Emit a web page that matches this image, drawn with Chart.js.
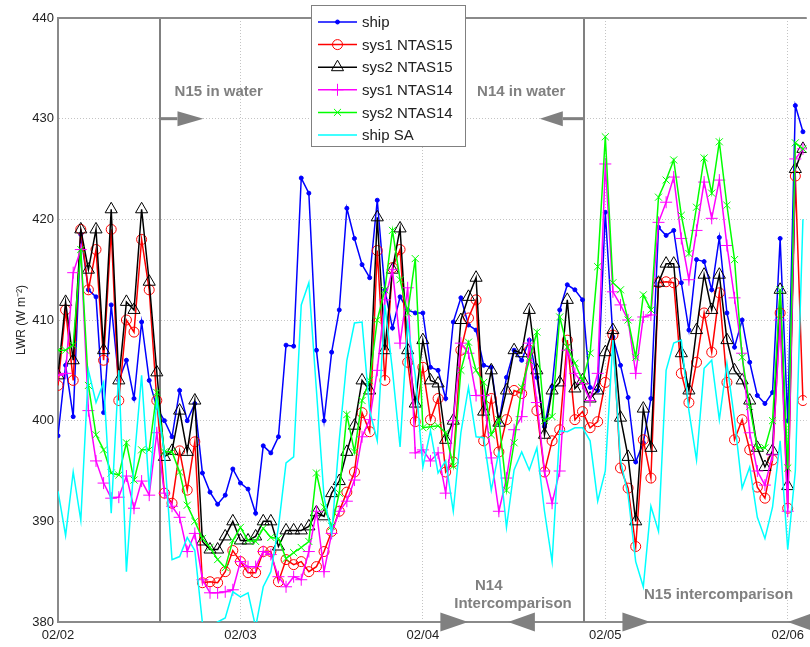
<!DOCTYPE html>
<html lang="en">
<head>
    <meta charset="UTF-8">
    <title>LWR - ship vs NTAS</title>
    <script src="https://cdn.jsdelivr.net/npm/chart.js"></script>
    <style>
        html, body { margin: 0; padding: 0; background: #fff; }
        .grafico { width: 810px; height: 647px; }
    </style>
</head>
<body>
    <div class="grafico"><canvas id="lwrChart" width="810" height="647"></canvas></div>

    <script>
        // hourly samples, starting 02/02 00:00 (x axis is in days)
        const stepDays = 1 / 24;
        const dayLabels = ['02/02', '02/03', '02/04', '02/05', '02/06'];
        const yTicks = [380, 390, 400, 410, 420, 430, 440];

        const ship = [
            398.5, 405.5, 400.4, 418.5, 413, 412.3, 400.8, 411.5, 404, 406,
            402.2, 409.8, 404, 401.3, 400, 398.4, 403, 400, 401.7, 394.8,
            392.9, 391.7, 392.6, 395.2, 393.8, 393.2, 390.8, 397.5, 396.8, 398.4,
            407.5, 407.4, 424.1, 422.6, 407, 400, 406.8, 411, 421.1, 418.1,
            415.5, 414.2, 421.9, 413, 409.2, 412.3, 411, 410.7, 410.7, 405.3,
            405, 402.2, 409.8, 412.2, 409.5, 409, 405.5, 405.3, 399.8, 404.3,
            407, 406, 408, 404.3, 399.4, 403.4, 411, 413.5, 413, 412,
            403.3, 403, 420.7, 408.3, 405.5, 402.3, 395.9, 397.8, 402.2, 419.2,
            418.4, 418.9, 413.7, 409, 416, 415.8, 413, 418.2, 410.7, 407.3,
            410, 405.8, 402.5, 401.7, 402.8, 418.1, 400, 431.3, 428.7
        ];
        const sys1N15 = [
            403.5, 411, 404, 419, 413, 417, 406, 419, 402, 410,
            408.8, 418, 413, 402, 392.8, 391.8, 397, 393.1, 397.9, 383.9,
            384, 383.9, 385, 387.1, 386, 384.9, 384.9, 387, 387, 384,
            386.2, 385.7, 386, 385, 385.5, 387, 389, 391, 392.9, 394.9,
            400.8, 398.9, 416.9, 404, 415.2, 417, 405.8, 399.9, 405.3, 400.1,
            402.2, 394.9, 395.9, 407, 410.2, 412, 398, 402.2, 396.9, 400.1,
            403, 402.7, 407, 401, 394.9, 398, 399.1, 408, 400.1, 400.9,
            399.3, 399.9, 403.8, 408.5, 395.3, 393.3, 387.5, 398.1, 394.3, 413.7,
            413.8, 413.7, 404.7, 401.8, 405.8, 410.7, 406.8, 412.7, 403.8, 398.1,
            400.1, 397.1, 393.4, 392.3, 396.1, 410.7, 391.3, 424.3, 402
        ];
        const sys2N15 = [
            404.5, 411.8, 406, 419, 415, 419, 407, 421, 404, 411.8,
            411, 421, 413.8, 404.8, 396.4, 397, 401, 396.9, 402, 388,
            387.2, 387.2, 388.5, 390, 388.1, 388.1, 388.5, 390, 390, 387.5,
            389.1, 389.1, 389.1, 389.5, 390.9, 390.5, 392.8, 394, 396.9, 399.5,
            404, 403, 420.2, 407, 415, 419.1, 407, 401.7, 408, 404,
            403.7, 398.1, 400, 410, 412.3, 414.2, 400.9, 405, 399.8, 403,
            407, 406.7, 411, 405, 398.6, 403, 403.8, 412, 403.2, 404,
            402.2, 403, 406.8, 409, 400.3, 396.4, 390, 401.2, 397.3, 413.7,
            415.6, 415.6, 406.7, 403, 409, 414.5, 411, 414.5, 408, 405,
            404, 402, 397.3, 395.4, 397, 413, 393.5, 425, 427
        ];
        const sys1N14 = [
            404.5, 404.7, 414.7, 417, 401, 396, 393.8, 392.3, 392.4, 394.5,
            391.3, 394, 392.6, 398.8, 392.8, 391.5, 390.4, 387, 388.8, 384.2,
            382.9, 382.9, 383, 383.2, 386, 385.5, 385.5, 387, 386.7, 384.5,
            383.5, 384.5, 384.2, 387, 391, 385, 388.8, 391, 392, 394.1,
            398.4, 400.1, 405, 412, 415, 407.7, 413.2, 396.8, 397.1, 396,
            396.8, 392.8, 400, 407.7, 406.7, 402.5, 402.5, 396.3, 391, 394.3,
            399.1, 400.4, 407.7, 401.8, 395, 391.8, 395, 407, 404.7, 403.7,
            402, 404.7, 425.5, 412.8, 411.5, 410, 404.7, 410.3, 410.5, 419.7,
            421.7, 424.2, 418.1, 414, 418.9, 423.7, 420.1, 423.9, 417.4, 412.2,
            406.7, 398.8, 395, 393.6, 396.6, 410, 391, 426, 427
        ];
        const sys2N14 = [
            407, 407, 407.5, 417, 403.5, 398.6, 397.1, 394.8, 394.6, 397.8,
            394.1, 397.1, 397.1, 402.8, 396.9, 396.9, 394.9, 391.6, 390, 388.3,
            387.4, 386.2, 385.4, 388.1, 389.4, 388.1, 388, 389.3, 388.4, 388.3,
            386.3, 386.9, 387.4, 388, 394.8, 391.4, 389.5, 392.8, 400.6, 396.9,
            402, 404, 410, 413, 418.9, 414, 410.7, 416.1, 399.3, 399.4,
            399.5, 398.8, 395.5, 405, 407.8, 405, 403.8, 398.6, 400.1, 393.1,
            397.8, 403.3, 406, 408.8, 400, 400.4, 410.3, 407.3, 405.7, 404,
            406.7, 415.3, 428.2, 413.7, 413, 410, 406.3, 412.5, 411, 422.2,
            423.9, 425.9, 420.4, 416.6, 421.2, 426.1, 422.6, 427.7, 421.4, 416,
            406.3, 401.4, 397.3, 397.3, 400, 413, 395.3, 427.6, 427
        ];
        const shipSA = [
            393, 388.6, 394.9, 390.1, 405, 401.8, 403.8, 390.8, 405, 385,
            395.8, 404.5, 393.1, 402, 396.8, 386.2, 386.5, 388.4, 387.1, 379.9,
            379.5, 380, 380.4, 383, 382.5, 382.9, 379.5, 383.5, 385, 389.4,
            395.8, 396.4, 411.5, 413.7, 403, 392.4, 388.8, 398.1, 406, 409.7,
            409.8, 401, 398, 411.5, 405, 397.4, 409.7, 404.5, 395.4, 399,
            394.8, 396, 391, 398.8, 403.3, 398.4, 398.3, 393.1, 396.9, 389.4,
            395.1, 396.9, 395.1, 397.3, 391, 386, 399, 398.9, 399.3, 399.3,
            398, 392, 395, 408, 396, 392.6, 386, 383.5, 391.5, 389,
            405, 407.7, 408, 401, 396.1, 405.2, 406, 400.1, 405.7, 400.1,
            393.3, 395.4, 390.4, 388.3, 391.4, 398, 387.2, 395, 420
        ];

        const seriesNames = ['ship', 'sys1 NTAS15', 'sys2 NTAS15', 'sys1 NTAS14', 'sys2 NTAS14', 'ship SA'];
        const seriesValues = [ship, sys1N15, sys2N15, sys1N14, sys2N14, shipSA];

        // look of each series (matlab style)
        const seriesStyle = [
            { color: '#0000ff', point: 'circle', radius: 2, filled: true },
            { color: '#ff0000', point: 'circle', radius: 5, filled: false },
            { color: '#000000', point: 'triangle', radius: 7, filled: false },
            { color: '#ff00ff', point: 'cross', radius: 6, filled: false },
            { color: '#00ff00', point: 'crossRot', radius: 5, filled: false },
            { color: '#00ffff', point: false, radius: 0, filled: false }
        ];

        // event markers, in days from 02/02
        const n15InWater = 0.557;
        const n14OutWater = 2.881;

        const fonte = 'Liberation Sans, Arial, sans-serif';
        Chart.defaults.font.family = fonte;

        const datasets = seriesValues.map(function (vals, k) {
            const st = seriesStyle[k];
            return {
                label: seriesNames[k],
                data: vals.map(function (v, i) { return { x: i * stepDays, y: v }; }),
                borderColor: st.color,
                backgroundColor: st.color,
                borderWidth: 1.5,
                pointStyle: st.point,
                pointRadius: st.radius,
                pointBorderWidth: 1,
                pointBorderColor: st.color,
                pointBackgroundColor: st.filled ? st.color : 'rgba(0,0,0,0)',
                tension: 0,
                order: 6 - k
            };
        });

        function triangle(ctx, tipX, baseX, y, half) {
            ctx.beginPath();
            ctx.moveTo(tipX, y);
            ctx.lineTo(baseX, y - half);
            ctx.lineTo(baseX, y + half);
            ctx.closePath();
            ctx.fill();
        }

        // vertical event lines, arrows and gray notes
        const notasPlugin = {
            id: 'notas',
            beforeDatasetsDraw(chart) {
                const ctx = chart.ctx, xs = chart.scales.x, ys = chart.scales.y;
                const area = chart.chartArea;
                ctx.save();
                ctx.strokeStyle = '#808080';
                ctx.lineWidth = 2;
                [n15InWater, n14OutWater].forEach(function (d) {
                    const px = Math.round(xs.getPixelForValue(d));
                    ctx.beginPath();
                    ctx.moveTo(px, area.top);
                    ctx.lineTo(px, area.bottom);
                    ctx.stroke();
                });

                const yArrow = ys.getPixelForValue(430);
                ctx.fillStyle = '#808080';
                ctx.lineWidth = 3;
                // N15 arrow (pointing right)
                let x0 = xs.getPixelForValue(n15InWater);
                let xb = xs.getPixelForValue(0.655);
                ctx.beginPath(); ctx.moveTo(x0, yArrow); ctx.lineTo(xb, yArrow); ctx.stroke();
                triangle(ctx, xs.getPixelForValue(0.797), xb, yArrow, 7.5);
                // N14 arrow (pointing left)
                x0 = xs.getPixelForValue(n14OutWater);
                xb = xs.getPixelForValue(2.767);
                ctx.beginPath(); ctx.moveTo(x0, yArrow); ctx.lineTo(xb, yArrow); ctx.stroke();
                triangle(ctx, xs.getPixelForValue(2.641), xb, yArrow, 7.5);

                ctx.font = 'bold 15px ' + fonte;
                ctx.textBaseline = 'middle';
                ctx.textAlign = 'left';
                ctx.fillText('N15 in water', xs.getPixelForValue(0.639), ys.getPixelForValue(432.7));
                ctx.fillText('N14 in water', xs.getPixelForValue(2.297), ys.getPixelForValue(432.7));
                ctx.textAlign = 'center';
                ctx.fillText('N14', xs.getPixelForValue(2.361), ys.getPixelForValue(383.6));
                ctx.fillText('Intercomparison', xs.getPixelForValue(2.494), ys.getPixelForValue(381.8));
                ctx.fillText('N15 intercomparison', xs.getPixelForValue(3.621), ys.getPixelForValue(382.7));
                ctx.restore();
            },
            afterDraw(chart) {
                const ctx = chart.ctx, xs = chart.scales.x, ys = chart.scales.y;
                const area = chart.chartArea;
                ctx.save();
                // top frame line
                ctx.strokeStyle = '#8a8a8a';
                ctx.lineWidth = 2;
                ctx.beginPath();
                ctx.moveTo(area.left, area.top);
                ctx.lineTo(area.right, area.top);
                ctx.stroke();

                // intercomparison triangles on the x axis
                const yb = ys.getPixelForValue(380);
                ctx.fillStyle = '#808080';
                triangle(ctx, xs.getPixelForValue(2.248), xs.getPixelForValue(2.096), yb, 9.5);
                triangle(ctx, xs.getPixelForValue(2.467), xs.getPixelForValue(2.614), yb, 9.5);
                triangle(ctx, xs.getPixelForValue(3.247), xs.getPixelForValue(3.094), yb, 9.5);
                triangle(ctx, xs.getPixelForValue(4.0), xs.getPixelForValue(4.147), yb, 9.5);

                // legend box
                const lx = 311, ly = 5, lw = 154, lh = 141;
                ctx.fillStyle = '#fff';
                ctx.fillRect(lx, ly, lw, lh);
                ctx.strokeStyle = '#808080';
                ctx.lineWidth = 1;
                ctx.strokeRect(lx + 0.5, ly + 0.5, lw, lh);
                ctx.font = '15px ' + fonte;
                ctx.textAlign = 'left';
                ctx.textBaseline = 'middle';
                seriesNames.forEach(function (nome, k) {
                    const st = seriesStyle[k];
                    const y = 22 + k * 22.6;
                    ctx.strokeStyle = st.color;
                    ctx.lineWidth = 1.5;
                    ctx.beginPath();
                    ctx.moveTo(318, y);
                    ctx.lineTo(357, y);
                    ctx.stroke();
                    if (st.point) {
                        ctx.lineWidth = 1;
                        ctx.fillStyle = st.filled ? st.color : 'rgba(0,0,0,0)';
                        Chart.helpers.drawPoint(ctx, { pointStyle: st.point, radius: st.radius, borderWidth: 1, rotation: 0 }, 337.5, y);
                    }
                    ctx.fillStyle = '#222';
                    ctx.fillText(nome, 362, y + 1);
                });
                ctx.restore();
            }
        };

        const ctxLwr = document.getElementById('lwrChart').getContext('2d');
        const lwrChart = new Chart(ctxLwr, {
            type: 'line',
            data: { datasets: datasets },
            options: {
                responsive: false,
                animation: false,
                layout: { autoPadding: false, padding: { top: 18, left: 0, right: 0, bottom: 0 } },
                plugins: {
                    legend: { display: false },
                    tooltip: { enabled: false }
                },
                scales: {
                    x: {
                        type: 'linear',
                        min: 0,
                        max: 4.104,
                        afterBuildTicks: function (s) {
                            s.ticks = dayLabels.map(function (_, i) { return { value: i }; });
                        },
                        afterFit: function (s) { s.height = 25; },
                        ticks: {
                            callback: function (v, i) { return dayLabels[i]; },
                            autoSkip: false,
                            maxRotation: 0,
                            padding: 6,
                            color: '#222',
                            font: { size: 13 }
                        },
                        grid: { color: '#c4c4c4', drawTicks: false, lineWidth: 1 },
                        border: { color: '#8a8a8a', width: 2, dash: [1, 2] }
                    },
                    y: {
                        min: 380,
                        max: 440,
                        afterBuildTicks: function (s) {
                            s.ticks = yTicks.map(function (v) { return { value: v }; });
                        },
                        afterFit: function (s) { s.width = 58; },
                        ticks: {
                            padding: 4,
                            color: '#222',
                            font: { size: 13 }
                        },
                        grid: { color: '#c4c4c4', drawTicks: false, lineWidth: 1 },
                        border: { color: '#8a8a8a', width: 2, dash: [1, 2] },
                        title: {
                            display: true,
                            text: 'LWR (W m⁻²)',
                            color: '#222',
                            font: { size: 12 },
                            padding: { top: 14, bottom: 0 }
                        }
                    }
                }
            },
            plugins: [notasPlugin]
        });
    </script>
</body>
</html>
